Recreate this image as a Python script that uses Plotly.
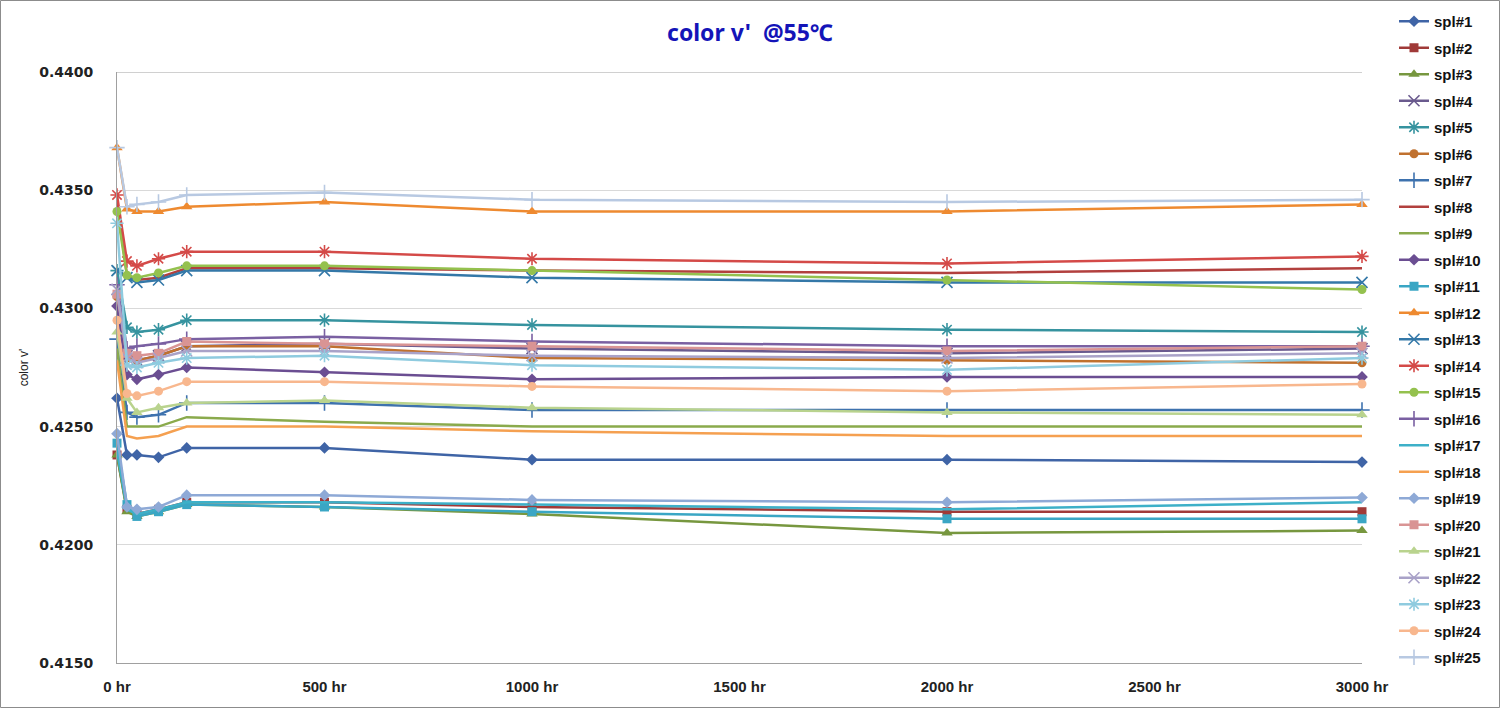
import plotly.graph_objects as go

hours = [0, 24, 48, 100, 168, 500, 1000, 2000, 3000]
x_tick_vals = [0, 500, 1000, 1500, 2000, 2500, 3000]
x_tick_text = ["0 hr", "500 hr", "1000 hr", "1500 hr", "2000 hr", "2500 hr", "3000 hr"]
y_tick_vals = [0.4150, 0.4200, 0.4250, 0.4300, 0.4350, 0.4400]

names = [f"spl#{i}" for i in range(1, 26)]

spl1 = [0.4262, 0.4238, 0.4238, 0.4237, 0.4241, 0.4241, 0.4236, 0.4236, 0.4235]
spl2 = [0.4238, 0.4215, 0.4213, 0.4215, 0.4218, 0.4218, 0.4216, 0.4214, 0.4214]
spl3 = [0.4238, 0.4214, 0.4212, 0.4214, 0.4217, 0.4216, 0.4213, 0.4205, 0.4206]
spl4 = [0.4308, 0.4280, 0.4278, 0.4280, 0.4284, 0.4285, 0.4283, 0.4281, 0.4283]
spl5 = [0.4316, 0.4292, 0.4290, 0.4291, 0.4295, 0.4295, 0.4293, 0.4291, 0.4290]
spl6 = [0.4305, 0.4279, 0.4278, 0.4280, 0.4284, 0.4284, 0.4279, 0.4278, 0.4277]
spl7 = [0.4287, 0.4256, 0.4254, 0.4255, 0.4260, 0.4260, 0.4257, 0.4257, 0.4257]
spl8 = [0.4345, 0.4314, 0.4312, 0.4313, 0.4317, 0.4317, 0.4316, 0.4315, 0.4317]
spl9 = [0.4283, 0.4250, 0.4250, 0.4250, 0.4254, 0.4252, 0.4250, 0.4250, 0.4250]
spl10 = [0.4301, 0.4272, 0.4270, 0.4272, 0.4275, 0.4273, 0.4270, 0.4271, 0.4271]
spl11 = [0.4243, 0.4217, 0.4212, 0.4214, 0.4217, 0.4216, 0.4214, 0.4211, 0.4211]
spl12 = [0.4368, 0.4342, 0.4341, 0.4341, 0.4343, 0.4345, 0.4341, 0.4341, 0.4344]
spl13 = [0.4316, 0.4313, 0.4311, 0.4312, 0.4316, 0.4316, 0.4313, 0.4311, 0.4311]
spl14 = [0.4348, 0.4320, 0.4318, 0.4321, 0.4324, 0.4324, 0.4321, 0.4319, 0.4322]
spl15 = [0.4341, 0.4314, 0.4313, 0.4315, 0.4318, 0.4318, 0.4316, 0.4312, 0.4308]
spl16 = [0.4310, 0.4283, 0.4284, 0.4285, 0.4287, 0.4288, 0.4286, 0.4284, 0.4284]
spl17 = [0.4240, 0.4215, 0.4213, 0.4215, 0.4218, 0.4218, 0.4217, 0.4215, 0.4218]
spl18 = [0.4278, 0.4246, 0.4245, 0.4246, 0.4250, 0.4250, 0.4248, 0.4246, 0.4246]
spl19 = [0.4247, 0.4216, 0.4215, 0.4216, 0.4221, 0.4221, 0.4219, 0.4218, 0.4220]
spl20 = [0.4306, 0.4281, 0.4280, 0.4281, 0.4286, 0.4285, 0.4284, 0.4282, 0.4284]
spl21 = [0.4290, 0.4262, 0.4256, 0.4258, 0.4260, 0.4261, 0.4258, 0.4256, 0.4255]
spl22 = [0.4308, 0.4279, 0.4277, 0.4279, 0.4282, 0.4282, 0.4280, 0.4279, 0.4281]
spl23 = [0.4336, 0.4276, 0.4275, 0.4277, 0.4279, 0.4280, 0.4276, 0.4274, 0.4279]
spl24 = [0.4295, 0.4264, 0.4263, 0.4265, 0.4269, 0.4269, 0.4267, 0.4265, 0.4268]
spl25 = [0.4368, 0.4343, 0.4344, 0.4345, 0.4348, 0.4349, 0.4346, 0.4345, 0.4346]

series = [spl1, spl2, spl3, spl4, spl5, spl6, spl7, spl8, spl9, spl10, spl11, spl12, spl13,
          spl14, spl15, spl16, spl17, spl18, spl19, spl20, spl21, spl22, spl23, spl24, spl25]

colors = ["#3F64A6", "#A03A38", "#77973F", "#6A5A8E", "#36939F", "#C0712F",
          "#3E72AE", "#B2403E", "#8AAA4C", "#6B4E92", "#3AA6C4", "#EE8A30",
          "#3478A8", "#D44A48", "#94C14E", "#7A60A2", "#3DB0C8", "#F5A050",
          "#8EA9D6", "#D99494", "#B9D38E", "#A9A2C8", "#8FCBDF", "#F8B78E", "#B8C9E2"]

symbols = ["diamond", "square", "triangle-up", "x-thin-open", "asterisk-open", "circle",
           "cross-thin-open", None, None,
           "diamond", "square", "triangle-up", "x-thin-open", "asterisk-open", "circle",
           "cross-thin-open", None, None,
           "diamond", "square", "triangle-up", "x-thin-open", "asterisk-open", "circle",
           "cross-thin-open"]

fig = go.Figure()
for i, (nm, vals) in enumerate(zip(names, series)):
    sym = symbols[i]
    c = colors[i]
    if sym is None:
        mode = "lines"
        marker = dict()
    else:
        mode = "lines+markers"
        if sym.endswith("open"):
            marker = dict(symbol=sym, size=11, color=c, line=dict(color=c, width=1.6))
        else:
            marker = dict(symbol=sym, size=9 if sym != "triangle-up" else 10, color=c,
                          line=dict(width=0))
    fig.add_trace(go.Scatter(
        x=hours, y=vals, name=nm, mode=mode, marker=marker, cliponaxis=False,
        line=dict(color=c, width=2.5), legendgroup=nm,
    ))

L, R, T, B = 117, 138, 72, 45
W, H = 1500, 708
pw, ph = W - L - R, H - T - B

fig.update_layout(
    width=W, height=H,
    margin=dict(l=L, r=R, t=T, b=B, pad=0, autoexpand=False),
    paper_bgcolor="white", plot_bgcolor="white",
    title=dict(text="color v'  @55℃", x=750 / W, xanchor="center", y=1 - 33 / H, yanchor="middle",
               font=dict(family="Noto Sans", size=23, color="#1414B8", weight="bold")),
    font=dict(family="Liberation Sans", color="#222222"),
    xaxis=dict(range=[0, 3000], tickvals=x_tick_vals, ticktext=x_tick_text,
               showgrid=False, zeroline=False, showline=True, linecolor="#A0A0A0", linewidth=1,
               ticks="", ticklabelstandoff=10, automargin=False,
               tickfont=dict(family="Liberation Sans", size=15, weight="bold", color="#222222")),
    yaxis=dict(range=[0.4150, 0.4400], tickvals=y_tick_vals, tickformat=".4f",
               showgrid=True, gridcolor="#D9D9D9", gridwidth=1, zeroline=False,
               showline=True, linecolor="#A0A0A0", linewidth=1, ticks="",
               ticklabelstandoff=20, automargin=False,
               tickfont=dict(family="DejaVu Sans", size=14, weight="bold", color="#222222"),
               title=dict(text="color v'", standoff=7,
                          font=dict(family="Liberation Sans", size=12, color="#222222"))),
    legend=dict(x=(1394 - L) / pw, y=(H - B - 5) / ph, xanchor="left", yanchor="top",
                font=dict(family="Liberation Sans", size=15, weight="bold", color="#111111"),
                tracegroupgap=4, bgcolor="rgba(0,0,0,0)", itemwidth=30, maxheight=705),
    showlegend=True,
)

# top gridline at the upper range edge (paper coords so it is not clipped)
fig.add_shape(type="line", xref="paper", yref="paper", x0=0, x1=1, y0=1 - 0.5 / ph, y1=1 - 0.5 / ph,
              line=dict(color="#D0D0D0", width=1), layer="below")

fig.add_shape(type="rect", xref="paper", yref="paper",
              x0=-(L - 0.5) / pw, x1=(W - L - 0.5) / pw,
              y0=-(B - 0.5) / ph, y1=(H - B - 0.5) / ph,
              line=dict(color="#8C8C8C", width=1), fillcolor="rgba(0,0,0,0)", layer="below")

fig.write_html("out.html", config={"displayModeBar": False},
               post_script="document.body.style.margin='0';document.body.style.overflow='hidden';")
